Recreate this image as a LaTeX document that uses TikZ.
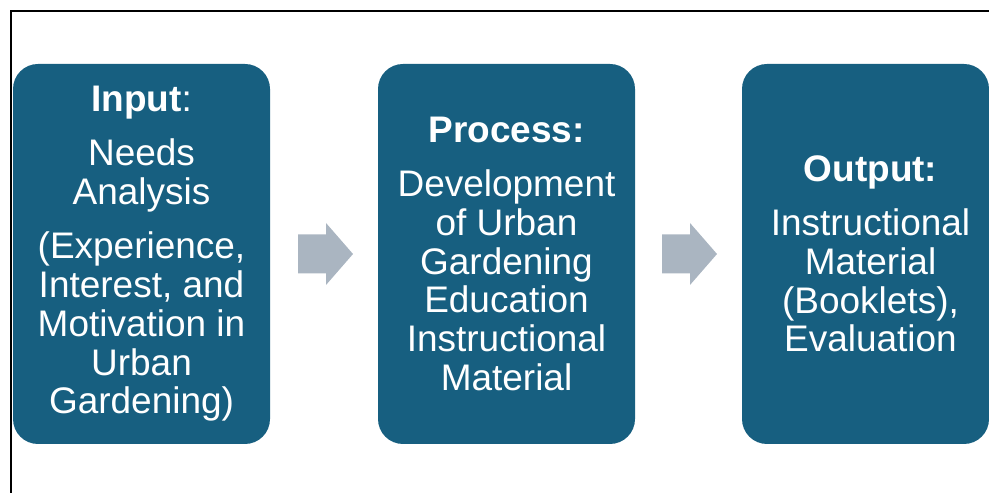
\documentclass[tikz,border=0pt]{standalone}
\usepackage{fontspec}
\setmainfont{Liberation Sans}
\usetikzlibrary{positioning}
\definecolor{stageblue}{RGB}{23,95,128}
\definecolor{arrowgray}{RGB}{170,181,193}
\tikzset{
  stagebox/.style={rounded corners=0.625cm, fill=stageblue, text=white, minimum width=6.425cm, minimum height=9.5cm, align=center, inner sep=0pt, font=\fontsize{26.3}{27.6}\selectfont},
  stagetext/.style={text=white, align=center, inner sep=0pt, font=\fontsize{26.3}{27.6}\selectfont},
  blockarrow/.style={fill=arrowgray},
  frameline/.style={line width=0.0375cm}
}
\begin{document}
\begin{tikzpicture}
  \clip (0,0) rectangle (24.725,12.325);
  \draw[frameline] (0.275,-0.5) rectangle (25.5,12.05);

  \node[stagebox] (input) at (3.5375,5.975) {\textbf{Input}:\\[0.38cm] Needs\\ Analysis\\[0.38cm] (Experience,\\ Interest, and\\ Motivation in\\ Urban\\ Gardening)};
  \node[stagebox] (process) at (12.6625,5.975) {\textbf{Process:}\\[0.38cm] Development\\ of Urban\\ Gardening\\ Education\\ Instructional\\ Material};
  \node[stagebox, minimum width=6.175cm] (output) at (21.6375,5.975) {};
  \node[stagetext] (outtext) at ([xshift=0.125cm]output.center) {\textbf{Output:}\\[0.38cm] Instructional\\ Material\\ (Booklets),\\ Evaluation};

  % block arrows between the stages
  \foreach \cx in {8.1375,17.2375}
    \fill[blockarrow, shift={(\cx,5.975)}] (-0.6875,0.4875) -- (0.0125,0.4875) -- (0.0125,0.775)
      -- (0.6875,0) -- (0.0125,-0.775) -- (0.0125,-0.4875) -- (-0.6875,-0.4875) -- cycle;
\end{tikzpicture}
\end{document}
